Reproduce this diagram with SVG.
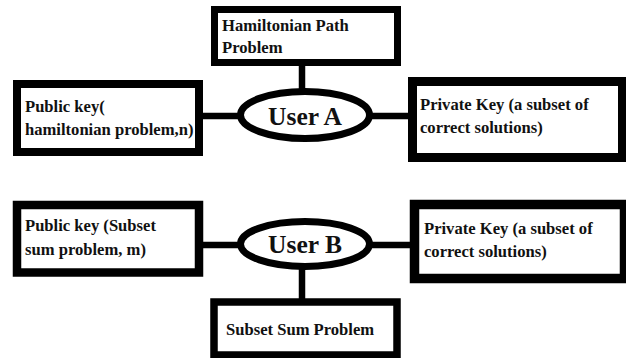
<svg xmlns="http://www.w3.org/2000/svg" width="626" height="358" viewBox="0 0 626 358">
<style>
.box{fill:#fff;stroke:#000}
.ell{fill:#fff;stroke:#000;stroke-width:7}
.con{stroke:#000;stroke-width:6.5;fill:none}
.t{font-family:"Liberation Serif","Times New Roman",serif;font-weight:bold;font-size:16.6px;fill:#111}
.u{font-family:"Liberation Serif","Times New Roman",serif;font-weight:bold;font-size:25.5px;fill:#111;text-anchor:middle}
</style>
<rect width="626" height="358" fill="#fff"/>
<g id="connectors">
<line class="con" x1="302" y1="64" x2="302" y2="92"/>
<line class="con" x1="200" y1="116" x2="240" y2="116"/>
<line class="con" x1="370" y1="116" x2="410" y2="116"/>
<line class="con" x1="200" y1="245" x2="240" y2="245"/>
<line class="con" x1="370" y1="245" x2="411" y2="245"/>
<line class="con" x1="302" y1="266" x2="302" y2="300"/>
</g>
<g id="hamiltonian">
<rect class="box" x="214.5" y="9.5" width="183" height="53" stroke-width="7"/>
<text class="t" x="222" y="30.5">Hamiltonian Path</text>
<text class="t" x="222" y="53">Problem</text>
</g>
<g id="publicA">
<rect class="box" x="17" y="84" width="182" height="68" stroke-width="8"/>
<text class="t" x="25" y="112">Public key(</text>
<text class="t" x="25" y="135">hamiltonian problem,n)</text>
</g>
<g id="userA">
<ellipse class="ell" cx="305" cy="115" rx="64.5" ry="23.5"/>
<text class="u" x="305" y="125">User A</text>
</g>
<g id="privateA">
<rect class="box" x="412.5" y="81.5" width="210" height="76" stroke-width="9"/>
<text class="t" x="420" y="110">Private Key (a subset of</text>
<text class="t" x="420" y="132.5">correct solutions)</text>
</g>
<g id="publicB">
<rect class="box" x="17" y="205" width="182" height="67.5" stroke-width="8.5"/>
<text class="t" x="25" y="231">Public key (Subset</text>
<text class="t" x="25" y="255">sum problem, m)</text>
</g>
<g id="userB">
<ellipse class="ell" cx="305" cy="244" rx="64.5" ry="22.5"/>
<text class="u" x="305" y="253">User B</text>
</g>
<g id="privateB">
<rect class="box" x="414.5" y="204.5" width="210" height="74" stroke-width="9.5"/>
<text class="t" x="424" y="234">Private Key (a subset of</text>
<text class="t" x="424" y="257">correct solutions)</text>
</g>
<g id="subsetsum">
<rect class="box" x="214" y="302" width="183" height="53" stroke-width="7.5"/>
<text class="t" x="226" y="335">Subset Sum Problem</text>
</g>
</svg>
